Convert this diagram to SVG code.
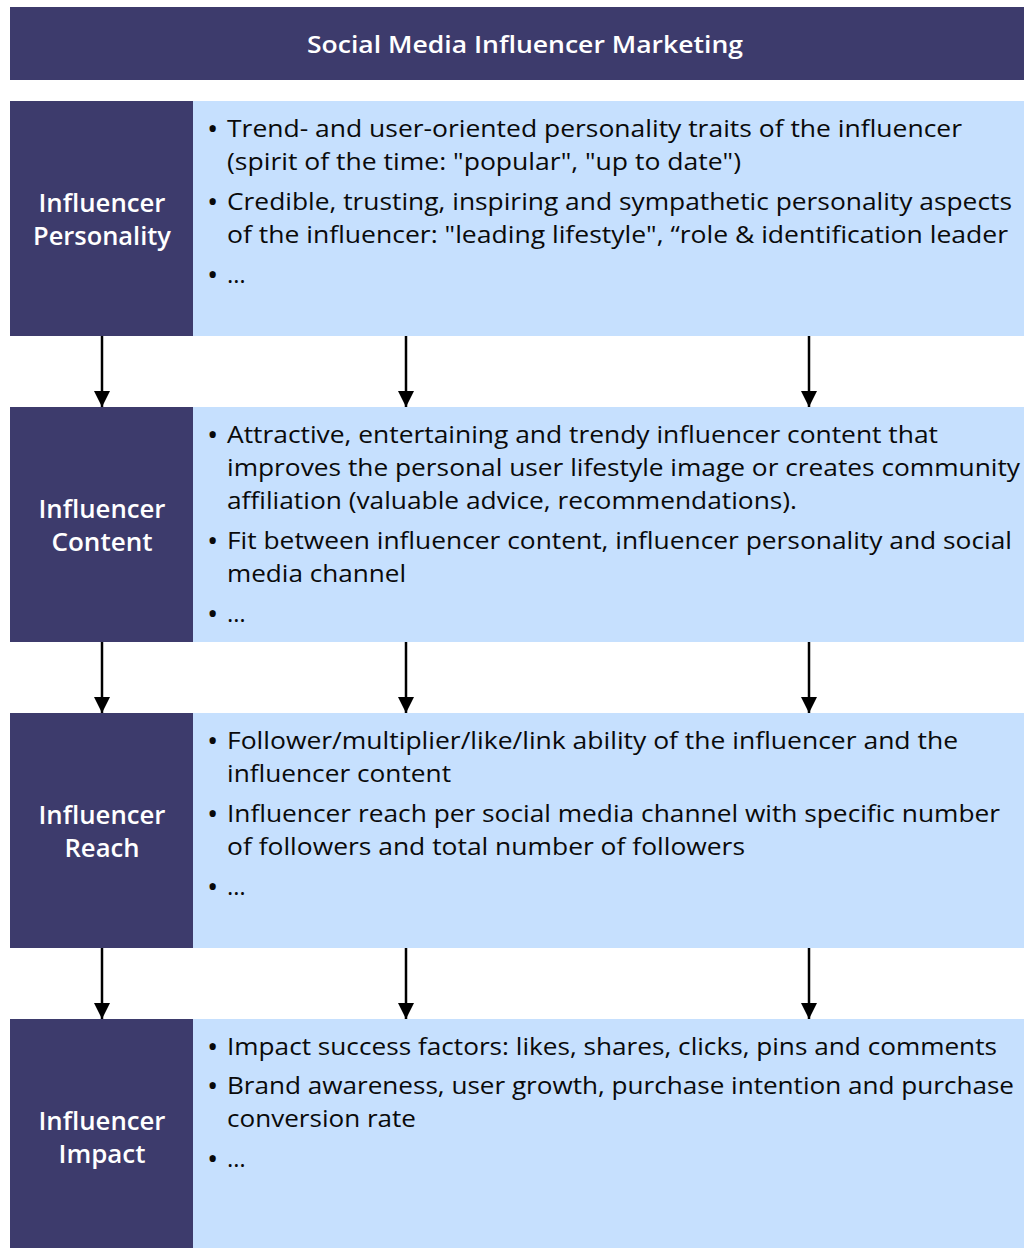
<svg xmlns="http://www.w3.org/2000/svg" width="1024" height="1248" viewBox="0 0 1024 1248">
  <style>
    .dark { fill: #3d3b6c; }
    .light { fill: #c6e0fe; }
    .title { font-family: "Open Sans", "Noto Sans", sans-serif; font-size: 24px; font-weight: 600; fill: #ffffff; text-anchor: middle; }
    .label { font-family: "Open Sans", "Noto Sans", sans-serif; font-size: 26px; font-weight: 600; fill: #ffffff; text-anchor: middle; }
    .body { font-family: "Open Sans", "Noto Sans", sans-serif; font-size: 24px; fill: #0a0a0a; }
    .dot { font-family: "Open Sans", "Noto Sans", sans-serif; font-size: 30px; fill: #0a0a0a; }
    .conn { stroke: #000000; stroke-width: 2.5; fill: none; }
  </style>
  <defs>
    <marker id="arrow" markerUnits="userSpaceOnUse" markerWidth="18" markerHeight="18" refX="16" refY="8" orient="auto">
      <path d="M0,0 L16,8 L0,16 Z" fill="#000000"/>
    </marker>
  </defs>

  <rect width="1024" height="1248" fill="#ffffff"/>

  <!-- heading bar -->
  <g id="title">
    <rect class="dark" x="10" y="7" width="1014" height="73"/>
    <text class="title" x="525" y="53" textLength="436" lengthAdjust="spacingAndGlyphs">Social Media Influencer Marketing</text>
  </g>

  <!-- stage 1 -->
  <g id="personality">
    <rect class="dark" x="10" y="101" width="183" height="235"/>
    <rect class="light" x="193" y="101" width="831" height="235"/>
    <text class="label" x="102" y="212" textLength="127" lengthAdjust="spacingAndGlyphs">Influencer</text>
    <text class="label" x="102" y="245" textLength="138" lengthAdjust="spacingAndGlyphs">Personality</text>
    <g class="body">
      <text class="dot" x="207" y="139">•</text>
      <text x="227" y="137" textLength="735" lengthAdjust="spacingAndGlyphs">Trend- and user-oriented personality traits of the influencer</text>
      <text x="227" y="170" textLength="514" lengthAdjust="spacingAndGlyphs">(spirit of the time: "popular", "up to date")</text>
      <text class="dot" x="207" y="212">•</text>
      <text x="227" y="210" textLength="785" lengthAdjust="spacingAndGlyphs">Credible, trusting, inspiring and sympathetic personality aspects</text>
      <text x="227" y="243" textLength="781" lengthAdjust="spacingAndGlyphs">of the influencer: "leading lifestyle", “role &amp; identification leader</text>
      <text class="dot" x="207" y="285">•</text>
      <text x="227" y="283">…</text>
    </g>
  </g>

  <!-- stage 2 -->
  <g id="content">
    <rect class="dark" x="10" y="407" width="183" height="235"/>
    <rect class="light" x="193" y="407" width="831" height="235"/>
    <text class="label" x="102" y="518" textLength="127" lengthAdjust="spacingAndGlyphs">Influencer</text>
    <text class="label" x="102" y="551" textLength="101" lengthAdjust="spacingAndGlyphs">Content</text>
    <g class="body">
      <text class="dot" x="207" y="445">•</text>
      <text x="227" y="443" textLength="711" lengthAdjust="spacingAndGlyphs">Attractive, entertaining and trendy influencer content that</text>
      <text x="227" y="476" textLength="793" lengthAdjust="spacingAndGlyphs">improves the personal user lifestyle image or creates community</text>
      <text x="227" y="509" textLength="570" lengthAdjust="spacingAndGlyphs">affiliation (valuable advice, recommendations).</text>
      <text class="dot" x="207" y="551">•</text>
      <text x="227" y="549" textLength="785" lengthAdjust="spacingAndGlyphs">Fit between influencer content, influencer personality and social</text>
      <text x="227" y="582" textLength="179" lengthAdjust="spacingAndGlyphs">media channel</text>
      <text class="dot" x="207" y="624">•</text>
      <text x="227" y="622">…</text>
    </g>
  </g>

  <!-- stage 3 -->
  <g id="reach">
    <rect class="dark" x="10" y="713" width="183" height="235"/>
    <rect class="light" x="193" y="713" width="831" height="235"/>
    <text class="label" x="102" y="824" textLength="127" lengthAdjust="spacingAndGlyphs">Influencer</text>
    <text class="label" x="102" y="857" textLength="75" lengthAdjust="spacingAndGlyphs">Reach</text>
    <g class="body">
      <text class="dot" x="207" y="751">•</text>
      <text x="227" y="749" textLength="731" lengthAdjust="spacingAndGlyphs">Follower/multiplier/like/link ability of the influencer and the</text>
      <text x="227" y="782" textLength="224" lengthAdjust="spacingAndGlyphs">influencer content</text>
      <text class="dot" x="207" y="824">•</text>
      <text x="227" y="822" textLength="773" lengthAdjust="spacingAndGlyphs">Influencer reach per social media channel with specific number</text>
      <text x="227" y="855" textLength="518" lengthAdjust="spacingAndGlyphs">of followers and total number of followers</text>
      <text class="dot" x="207" y="897">•</text>
      <text x="227" y="895">…</text>
    </g>
  </g>

  <!-- stage 4 -->
  <g id="impact">
    <rect class="dark" x="10" y="1019" width="183" height="229"/>
    <rect class="light" x="193" y="1019" width="831" height="229"/>
    <text class="label" x="102" y="1130" textLength="127" lengthAdjust="spacingAndGlyphs">Influencer</text>
    <text class="label" x="102" y="1163" textLength="87" lengthAdjust="spacingAndGlyphs">Impact</text>
    <g class="body">
      <text class="dot" x="207" y="1057">•</text>
      <text x="227" y="1055" textLength="770" lengthAdjust="spacingAndGlyphs">Impact success factors: likes, shares, clicks, pins and comments</text>
      <text class="dot" x="207" y="1096">•</text>
      <text x="227" y="1094" textLength="787" lengthAdjust="spacingAndGlyphs">Brand awareness, user growth, purchase intention and purchase</text>
      <text x="227" y="1127" textLength="189" lengthAdjust="spacingAndGlyphs">conversion rate</text>
      <text class="dot" x="207" y="1169">•</text>
      <text x="227" y="1167">…</text>
    </g>
  </g>

  <!-- connectors between stages -->
  <g id="connectors">
    <line class="conn" x1="102" y1="336" x2="102" y2="407" marker-end="url(#arrow)"/>
    <line class="conn" x1="406" y1="336" x2="406" y2="407" marker-end="url(#arrow)"/>
    <line class="conn" x1="809" y1="336" x2="809" y2="407" marker-end="url(#arrow)"/>
    <line class="conn" x1="102" y1="642" x2="102" y2="713" marker-end="url(#arrow)"/>
    <line class="conn" x1="406" y1="642" x2="406" y2="713" marker-end="url(#arrow)"/>
    <line class="conn" x1="809" y1="642" x2="809" y2="713" marker-end="url(#arrow)"/>
    <line class="conn" x1="102" y1="948" x2="102" y2="1019" marker-end="url(#arrow)"/>
    <line class="conn" x1="406" y1="948" x2="406" y2="1019" marker-end="url(#arrow)"/>
    <line class="conn" x1="809" y1="948" x2="809" y2="1019" marker-end="url(#arrow)"/>
  </g>
</svg>
